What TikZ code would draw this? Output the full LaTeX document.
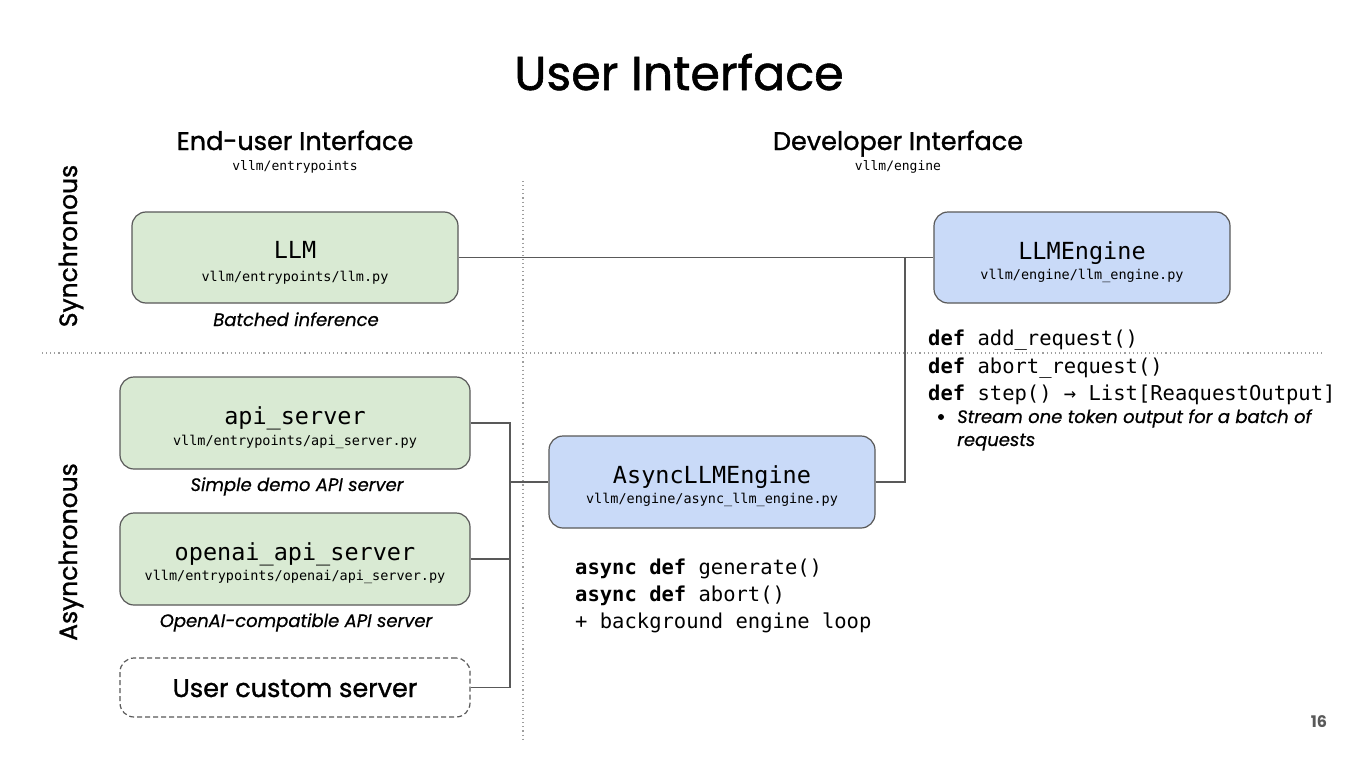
\documentclass[tikz,border=0pt]{standalone}
\usepackage{fontspec}
\setmainfont{Poppins}
\newfontfamily\headfont{Poppins}[FakeBold=1.2]
\newfontfamily\capfont{Poppins}[FakeBold=0.6]
\newfontfamily\mono{DejaVu Sans Mono}
\definecolor{gfill}{HTML}{D9EAD3}
\definecolor{bfill}{HTML}{C9DAF8}
\definecolor{edgec}{HTML}{595959}
\definecolor{sepc}{HTML}{9E9E9E}
\newcommand{\fs}[1]{\fontsize{#1}{#1}\selectfont}
\begin{document}
\begin{tikzpicture}[x=1pt,y=-1pt,
  box/.style={draw=edgec, line width=1.2pt, rounded corners=14pt, inner sep=0pt},
  gbox/.style={box, fill=gfill},
  bbox/.style={box, fill=bfill},
  dbox/.style={box, dashed, dash pattern=on 5pt off 3pt, fill=white},
  conn/.style={draw=edgec, line width=1.2pt},
  sepline/.style={draw=sepc, line width=1.1pt, dash pattern=on 1.1pt off 3pt},
  txt/.style={inner sep=0pt, anchor=base},
  ltxt/.style={inner sep=0pt, anchor=base west}]
\useasboundingbox (0,0) rectangle (1357,760);
\fill[white] (0,0) rectangle (1357,760);

% separators
\draw[sepline] (42,353) -- (1322,353);
\draw[sepline] (523,181) -- (523,740);

% headings
\node[txt] (title) at (679,90) {\fs{47.5}\headfont User Interface};
\node[txt] (endh) at (295,150) {\fs{25.5}\headfont End-user Interface};
\node[txt] (endp) at (295,170) {\fs{13}\mono vllm/entrypoints};
\node[txt] (devh) at (898,150) {\fs{25.5}\headfont Developer Interface};
\node[txt] (devp) at (898,170) {\fs{13}\mono vllm/engine};
\node[txt, rotate=90] (sync) at (77,246) {\fs{25}\headfont Synchronous};
\node[txt, rotate=90] (async) at (77,552) {\fs{25}\headfont Asynchronous};

% boxes
\node[gbox, minimum width=326pt, minimum height=91pt] (llm) at (295,257.5) {};
\node[bbox, minimum width=296pt, minimum height=91pt] (eng) at (1082,257.5) {};
\node[gbox, minimum width=350pt, minimum height=92pt] (api) at (295,423) {};
\node[gbox, minimum width=350pt, minimum height=92pt] (oai) at (295,559) {};
\node[dbox, minimum width=350pt, minimum height=59pt] (cust) at (295,687.5) {};
\node[bbox, minimum width=326pt, minimum height=92pt] (aeng) at (712,482) {};

% box texts
\node[txt] (llmt) at (295,258) {\fs{23.5}\mono LLM};
\node[txt] (llmp) at (295,281) {\fs{13.5}\mono vllm/entrypoints/llm.py};
\node[txt] (engt) at (1082,259) {\fs{23.5}\mono LLMEngine};
\node[txt] (engp) at (1082,279) {\fs{13.5}\mono vllm/engine/llm\_engine.py};
\node[txt] (apit) at (295,424) {\fs{23.5}\mono api\_server};
\node[txt] (apip) at (295,445) {\fs{13.5}\mono vllm/entrypoints/api\_server.py};
\node[txt] (oait) at (295,560) {\fs{23.5}\mono openai\_api\_server};
\node[txt] (oaip) at (295,580) {\fs{13.5}\mono vllm/entrypoints/openai/api\_server.py};
\node[txt] (custt) at (295,697) {\fs{25.5}\headfont User custom server};
\node[txt] (aengt) at (712,483) {\fs{23.5}\mono AsyncLLMEngine};
\node[txt] (aengp) at (712,503) {\fs{13.5}\mono vllm/engine/async\_llm\_engine.py};

% captions
\node[txt] (cap1) at (296,326) {\fs{18}\capfont\itshape Batched inference};
\node[txt] (cap2) at (297,491) {\fs{18}\capfont\itshape Simple demo API server};
\node[txt] (cap3) at (296,627) {\fs{18}\capfont\itshape OpenAI-compatible API server};

% engine methods
\node[ltxt] (m1) at (928,345) {\fs{20.5}\mono\textbf{def} add\_request()};
\node[ltxt] (m2) at (928,373) {\fs{20.5}\mono\textbf{def} abort\_request()};
\node[ltxt] (m3) at (928,400) {\fs{20.5}\mono\textbf{def} step() → List[ReaquestOutput]};
\node[circle, fill=black, inner sep=0pt, minimum size=6pt] (bul) at (941,417) {};
\node[ltxt] (m4) at (957,423) {\fs{18}\capfont\itshape Stream one token output for a batch of};
\node[ltxt] (m5) at (957,446) {\fs{18}\capfont\itshape requests};

% async methods
\node[ltxt] (a1) at (575,574) {\fs{20.5}\mono\textbf{async def} generate()};
\node[ltxt] (a2) at (575,601) {\fs{20.5}\mono\textbf{async def} abort()};
\node[ltxt] (a3) at (575,628) {\fs{20.5}\mono + background engine loop};

% page number
\node[txt] (pg) at (1319,727) {\fs{16}\bfseries\color{edgec}16};

% connectors
\coordinate (jr) at (905,257.5);
\coordinate (jl) at (510,482);
\draw[conn] (llm.east) -- (eng.west);
\draw[conn] (aeng.east) -| (jr);
\draw[conn] (api.east) -| (jl);
\draw[conn] (cust.east) -| (jl);
\draw[conn] (oai.east) -- (oai.east -| jl);
\draw[conn] (jl) -- (aeng.west);
\end{tikzpicture}
\end{document}
